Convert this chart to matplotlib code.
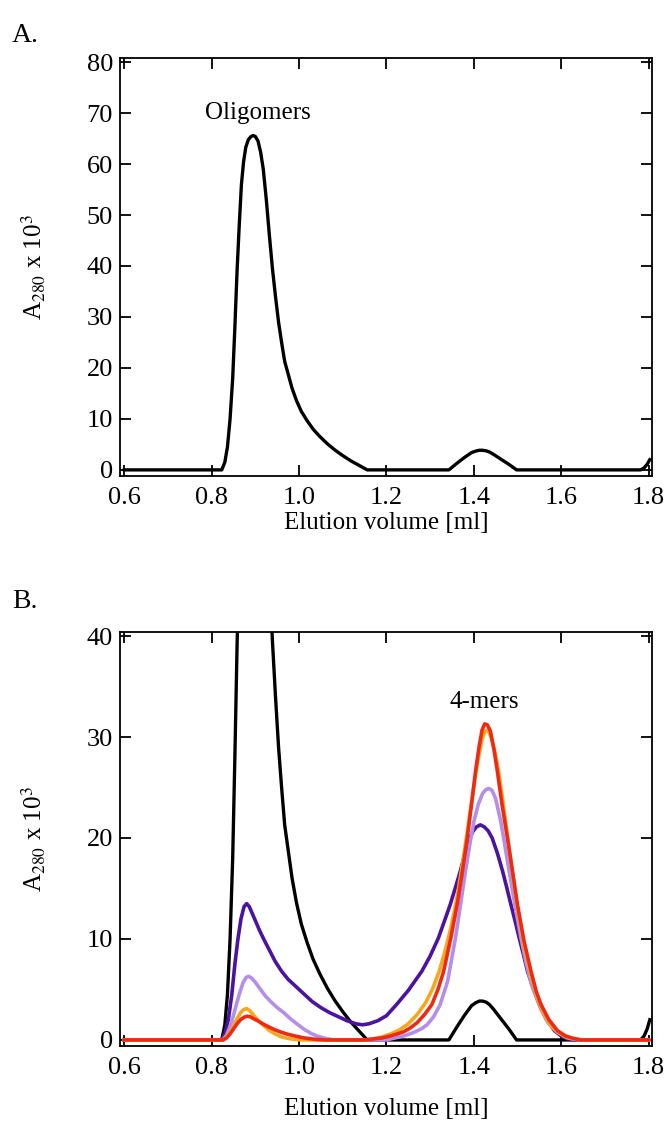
import matplotlib
matplotlib.use("Agg")
import matplotlib.pyplot as plt

plt.rcParams["font.family"] = "serif"
plt.rcParams["font.serif"] = ["Liberation Serif", "DejaVu Serif"]
plt.rcParams["mathtext.fontset"] = "stix"

# black trace (untreated, shown in both panels)
black_x = [0.60, 0.823, 0.830, 0.836, 0.842, 0.848, 0.853, 0.858, 0.863, 0.868, 0.873, 0.878,
           0.884, 0.890, 0.895, 0.900, 0.906, 0.912, 0.918, 0.925, 0.932, 0.939, 0.946, 0.953,
           0.960, 0.967, 0.975, 0.984, 0.994, 1.005, 1.018, 1.032, 1.048, 1.065, 1.082, 1.100,
           1.118, 1.137, 1.156, 1.343, 1.360, 1.378, 1.395, 1.405, 1.413, 1.420, 1.428, 1.436,
           1.446, 1.462, 1.480, 1.498, 1.782, 1.790, 1.797, 1.803]
black_y = [0, 0, 1.5, 4.5, 10, 18, 28, 39, 48, 56, 60.5, 63.3,
           64.8, 65.4, 65.6, 65.4, 64.5, 62.3, 59, 53, 46, 39.5, 34, 29,
           25, 21.3, 18.8, 16.0, 13.6, 11.5, 9.7, 8.0, 6.5, 5.1, 3.9, 2.8,
           1.8, 0.9, 0, 0, 1.2, 2.4, 3.4, 3.7, 3.85, 3.85, 3.75, 3.5,
           3.0, 2.1, 1.1, 0, 0, 0.4, 1.1, 2.0]

dpurple_x = [0.60, 0.822, 0.830, 0.838, 0.846, 0.853, 0.860, 0.867, 0.874, 0.880, 0.886, 0.893,
             0.900, 0.910, 0.920, 0.932, 0.945, 0.960, 0.975, 0.990, 1.010, 1.030, 1.050, 1.070,
             1.090, 1.110, 1.130, 1.145, 1.160, 1.180, 1.200, 1.223, 1.250, 1.281, 1.300, 1.319,
             1.333, 1.346, 1.358, 1.369, 1.379, 1.388, 1.397, 1.406, 1.415, 1.424, 1.433, 1.442,
             1.454, 1.466, 1.476, 1.485, 1.495, 1.504, 1.514, 1.523, 1.537, 1.550, 1.567, 1.585,
             1.600, 1.615, 1.64, 1.80]
dpurple_y = [0, 0, 0.6, 2.0, 4.5, 7.5, 10.0, 12.0, 13.2, 13.5, 13.2, 12.5,
             11.8, 10.8, 9.9, 8.9, 7.8, 6.8, 6.0, 5.4, 4.6, 3.8, 3.2, 2.7,
             2.3, 1.9, 1.6, 1.5, 1.6, 1.9, 2.4, 3.5, 4.9, 6.8, 8.3, 10.1,
             11.8, 13.4, 15.1, 16.7, 18.3, 19.6, 20.6, 21.1, 21.3, 21.1, 20.7, 20.0,
             18.5, 16.7, 15.0, 13.4, 11.7, 10.1, 8.4, 6.8, 5.0, 3.5, 2.0, 0.9,
             0.4, 0.1, 0, 0]

lpurple_x = [0.60, 0.825, 0.833, 0.841, 0.849, 0.857, 0.865, 0.872, 0.879, 0.885, 0.892, 0.900,
             0.910, 0.922, 0.935, 0.950, 0.965, 0.980, 0.995, 1.010, 1.025, 1.040, 1.060, 1.08,
             1.20, 1.22, 1.24, 1.26, 1.28, 1.293, 1.308, 1.323, 1.340, 1.358, 1.370, 1.381,
             1.391, 1.400, 1.410, 1.420, 1.428, 1.435, 1.442, 1.450, 1.462, 1.471, 1.481, 1.494,
             1.508, 1.520, 1.532, 1.554, 1.570, 1.590, 1.615, 1.64, 1.80]
lpurple_y = [0, 0, 0.4, 1.2, 2.3, 3.6, 4.8, 5.7, 6.2, 6.3, 6.1, 5.7,
             5.1, 4.4, 3.8, 3.2, 2.7, 2.1, 1.6, 1.1, 0.7, 0.4, 0.15, 0,
             0, 0.2, 0.4, 0.7, 1.1, 1.5, 2.3, 3.5, 5.8, 10.1, 13.5, 16.7,
             19.4, 21.6, 23.3, 24.4, 24.8, 24.9, 24.7, 23.9, 21.6, 19.3, 16.7, 13.4,
             10.1, 7.6, 5.5, 3.0, 1.7, 0.8, 0.2, 0, 0]

orange_x = [0.60, 0.826, 0.834, 0.842, 0.850, 0.858, 0.866, 0.873, 0.880, 0.887, 0.895, 0.905,
            0.917, 0.930, 0.945, 0.960, 0.975, 0.990, 1.005, 1.02, 1.15, 1.17, 1.19, 1.21,
            1.23, 1.25, 1.27, 1.29, 1.305, 1.320, 1.333, 1.347, 1.362, 1.374, 1.385, 1.395,
            1.404, 1.412, 1.419, 1.426, 1.433, 1.440, 1.448, 1.456, 1.466, 1.477, 1.489, 1.500,
            1.515, 1.531, 1.545, 1.560, 1.575, 1.592, 1.610, 1.63, 1.65, 1.80]
orange_y = [0, 0, 0.3, 0.8, 1.4, 2.1, 2.7, 3.0, 3.1, 2.9, 2.5, 2.0,
            1.5, 1.0, 0.6, 0.3, 0.15, 0.05, 0, 0, 0, 0.1, 0.3, 0.6,
            1.0, 1.6, 2.5, 3.7, 5.0, 6.7, 8.6, 11.0, 14.2, 17.4, 20.6, 23.6,
            26.2, 28.3, 29.8, 30.6, 30.7, 29.9, 28.6, 26.8, 23.8, 20.3, 16.4, 13.0,
            9.3, 6.3, 4.2, 2.6, 1.5, 0.8, 0.3, 0.1, 0, 0]

red_x = [0.60, 0.826, 0.834, 0.842, 0.850, 0.858, 0.866, 0.874, 0.881, 0.888, 0.896, 0.905,
         0.917, 0.930, 0.945, 0.960, 0.975, 0.990, 1.005, 1.02, 1.04, 1.06, 1.15, 1.17,
         1.19, 1.21, 1.225, 1.239, 1.255, 1.270, 1.287, 1.304, 1.318, 1.331, 1.347, 1.362,
         1.374, 1.385, 1.395, 1.404, 1.412, 1.419, 1.425, 1.431, 1.438, 1.446, 1.454, 1.465,
         1.477, 1.489, 1.500, 1.515, 1.531, 1.543, 1.554, 1.572, 1.592, 1.610, 1.628, 1.646, 1.80]
red_y = [0, 0, 0.2, 0.6, 1.1, 1.6, 2.0, 2.25, 2.35, 2.3, 2.1, 1.9,
         1.6, 1.3, 1.0, 0.75, 0.55, 0.4, 0.25, 0.15, 0.05, 0, 0, 0.1,
         0.2, 0.4, 0.6, 0.8, 1.2, 1.7, 2.5, 3.5, 5.0, 6.8, 10.0, 13.4,
         16.7, 20.0, 23.4, 26.6, 29.0, 30.7, 31.3, 31.2, 30.6, 28.8, 26.6, 23.2,
         20.0, 16.6, 13.4, 9.8, 6.8, 4.8, 3.5, 2.0, 0.9, 0.4, 0.15, 0, 0]

x_ticks = [0.6, 0.8, 1.0, 1.2, 1.4, 1.6, 1.8]
x_labels = ["0.6", "0.8", "1.0", "1.2", "1.4", "1.6", "1.8"]
ya_ticks = [0, 10, 20, 30, 40, 50, 60, 70, 80]
yb_ticks = [0, 10, 20, 30, 40]

W, H = 669, 1131
fig = plt.figure(figsize=(W / 100, H / 100), dpi=100)


def px_axes(l, t, r, b):
    return fig.add_axes([l / W, 1 - b / H, (r - l) / W, (b - t) / H])


def style(ax, yt, xlab_y):
    ax.set_xlim(0.59, 1.808)
    ax.set_xticks(x_ticks)
    ax.set_xticklabels(x_labels)
    ax.set_yticks(yt)
    ax.tick_params(direction="in", length=8, width=1.3, top=True, right=True,
                   labelsize=19, pad=5)
    ax.tick_params(axis="x", pad=8)
    for s in ax.spines.values():
        s.set_linewidth(1.3)
    ax.set_xlabel("Elution volume [ml]", fontsize=18)
    ax.set_ylabel(r"A$_{280}$ x 10$^{3}$", fontsize=18)
    ax.xaxis.set_label_coords(0.5, xlab_y)
    ax.yaxis.set_label_coords(-0.135, 0.5)


axA = px_axes(120, 58, 652, 476)
axA.plot(black_x, black_y, color="black", lw=2.4, solid_joinstyle="round")
axA.set_ylim(-1.2, 80.8)
style(axA, ya_ticks, -0.087)
axA.text(0.905, 70, "Oligomers", fontsize=18, ha="center", va="center")

axB = px_axes(120, 632, 652, 1046)
axB.plot(black_x, black_y, color="black", lw=2.4)
axB.plot(dpurple_x, dpurple_y, color="#4a14a0", lw=2.6)
axB.plot(lpurple_x, lpurple_y, color="#b48ee8", lw=2.6)
axB.plot(orange_x, orange_y, color="#f5a71e", lw=2.6)
axB.plot(red_x, red_y, color="#ee2a14", lw=2.6)
axB.set_ylim(-0.6, 40.4)
style(axB, yb_ticks, -0.125)
axB.text(1.423, 33.5, "4-mers", fontsize=18, ha="center", va="center")

fig.text(12 / W, 1 - 36 / H, "A.", fontsize=20, va="center")
fig.text(12 / W, 1 - 602 / H, "B.", fontsize=20, va="center")

fig.savefig("out.png", dpi=100)
